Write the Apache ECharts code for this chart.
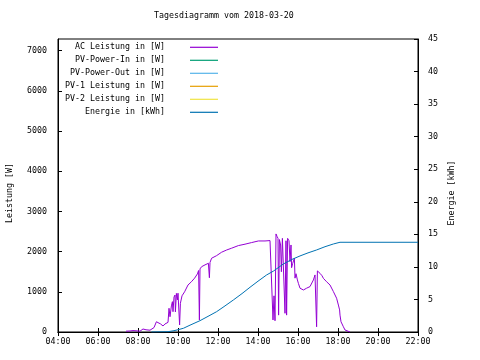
<!DOCTYPE html>
<html>
<head>
<meta charset="utf-8">
<script src="https://cdn.jsdelivr.net/npm/echarts@6/dist/echarts.min.js"></script>
<style>html,body{margin:0;padding:0;background:#fff}#c{width:480px;height:360px}</style>
</head>
<body>
<div id="c"></div>
<script>
// ---- data ----
const chartTitle = 'Tagesdiagramm vom 2018-03-20';
const seriesNames = ['AC Leistung in [W]', 'PV-Power-In in [W]', 'PV-Power-Out in [W]', 'PV-1 Leistung in [W]', 'PV-2 Leistung in [W]', 'Energie in [kWh]'];
const xTicks = [4, 6, 8, 10, 12, 14, 16, 18, 20, 22];

// AC power: time (decimal hours) and watts
const acTime = [7.40, 7.50, 7.60, 7.75, 7.90, 8.00, 8.10, 8.25, 8.40, 8.50, 8.60, 8.70, 8.80, 8.92, 9.00, 9.13, 9.25, 9.35, 9.42, 9.50,
  9.55, 9.60, 9.67, 9.72, 9.75, 9.80, 9.85, 9.87, 9.92, 9.97, 10.00, 10.05, 10.08, 10.12, 10.20, 10.33, 10.50, 10.67, 10.83, 10.97,
  11.03, 11.07, 11.10, 11.18, 11.35, 11.52, 11.57, 11.60, 11.68, 11.93, 12.18, 12.43, 12.68, 13.02, 13.35, 13.68, 14.02, 14.35, 14.60, 14.70,
  14.75, 14.80, 14.85, 14.90, 14.95, 15.00, 15.03, 15.07, 15.13, 15.17, 15.22, 15.27, 15.35, 15.40, 15.43, 15.48, 15.55, 15.60, 15.65, 15.68,
  15.73, 15.82, 15.85, 15.90, 15.97, 16.02, 16.10, 16.27, 16.35, 16.43, 16.60, 16.77, 16.85, 16.93, 16.97, 17.02, 17.10, 17.20, 17.27, 17.43,
  17.60, 17.77, 17.93, 18.02, 18.08, 18.10, 18.15, 18.27, 18.35, 18.45, 18.55, 18.60];
const acPower = [20, 30, 25, 35, 30, 50, 20, 75, 55, 50, 45, 90, 110, 255, 215, 200, 150, 200, 215, 240,
  590, 380, 650, 755, 505, 870, 920, 500, 960, 800, 965, 980, 175, 715, 900, 1000, 1170, 1250, 1340, 1445,
  1530, 300, 1570, 1625, 1670, 1710, 1350, 1730, 1835, 1900, 1985, 2040, 2085, 2150, 2185, 2225, 2265, 2265, 2275, 2260,
  300, 900, 280, 2440, 2380, 2330, 420, 2300, 2165, 1500, 2330, 2330, 465, 2270, 420, 2330, 2270, 1750, 2165, 1600,
  1700, 1835, 1340, 1450, 1295, 1210, 1090, 1045, 1005, 1090, 1130, 1295, 1420, 130, 1520, 1545, 1460, 1400, 1335, 1250,
  1170, 1005, 840, 670, 550, 420, 255, 130, 50, 20, 10, 0];

// Energy: time (decimal hours) and kWh
const energyTime = [8.67, 9.50, 9.80, 10.00, 10.27, 10.60, 11.10, 11.50, 11.93, 12.30, 12.77, 13.20, 13.60, 14.00, 14.43, 14.77, 15.27, 15.70, 16.10, 16.50, 16.93, 17.35, 17.77, 18.10, 22.00];
const energyKWh = [0, 0.05, 0.2, 0.35, 0.57, 1.05, 1.74, 2.4, 3.12, 3.9, 4.92, 5.9, 6.87, 7.8, 8.76, 9.35, 10.45, 11.15, 11.68, 12.15, 12.6, 13.1, 13.52, 13.78, 13.78];

const pvInData = [];
const pvOutData = [];
const pv1Data = [];
const pv2Data = [];

// ---- chart ----
const FONT = 'DejaVu Sans Mono';
const FS = 8.3;
const zip = (a, b) => a.map((v, i) => [v, b[i]]);
const colors = ['#9400d3', '#009e73', '#56b4e9', '#e69f00', '#f0e442', '#0072b2'];

const chart = echarts.init(document.getElementById('c'), null, {renderer: 'canvas'});
const fmtHour = v => (v < 10 ? '0' : '') + v + ':00';
const lineSeries = (i, data, yIdx) => ({
  name: seriesNames[i], type: 'line', data: data, yAxisIndex: yIdx, xAxisIndex: 0,
  symbol: 'none', showSymbol: false, color: colors[i],
  lineStyle: {color: colors[i], width: 1}, emphasis: {disabled: true}, z: 2 + i
});

chart.setOption({
  animation: false,
  backgroundColor: '#fff',
  title: {
    text: chartTitle, left: 154, top: 12, padding: 0,
    textStyle: {fontFamily: FONT, fontSize: FS, fontWeight: 'normal', color: '#000'}
  },
  legend: {
    orient: 'vertical', align: 'right', right: 262, top: 40.8, padding: 0,
    icon: 'rect', itemWidth: 28, itemHeight: 1.2, itemGap: 0,
    data: seriesNames,
    textStyle: {fontFamily: FONT, fontSize: FS, color: '#000', lineHeight: 13, padding: [0, 20, 0, 0]}
  },
  grid: {left: 58, right: 62, top: 39, bottom: 28, show: true, borderColor: '#000', borderWidth: 1, containLabel: false},
  xAxis: [{
    type: 'value', min: 4, max: 22, interval: 2, position: 'bottom',
    axisLine: {lineStyle: {color: '#000', width: 1}},
    axisTick: {inside: true, length: 4, lineStyle: {color: '#000'}},
    axisLabel: {formatter: fmtHour, margin: 6, fontFamily: FONT, fontSize: FS, color: '#000'},
    splitLine: {show: false}
  }, {
    type: 'value', min: 4, max: 22, interval: 2, position: 'top',
    axisLine: {lineStyle: {color: '#000', width: 1}},
    axisTick: {inside: true, length: 4, lineStyle: {color: '#000'}},
    axisLabel: {show: false}, splitLine: {show: false}
  }],
  yAxis: [{
    type: 'value', min: 0, max: 7290, interval: 1000, position: 'left',
    axisLine: {show: true, lineStyle: {color: '#000', width: 1}},
    axisTick: {show: true, inside: true, length: 4, lineStyle: {color: '#000'}},
    axisLabel: {showMaxLabel: false, formatter: v => String(v), margin: 11, fontFamily: FONT, fontSize: FS, color: '#000'},
    splitLine: {show: false}
  }, {
    type: 'value', min: 0, max: 45, interval: 5, position: 'right',
    axisLine: {show: true, lineStyle: {color: '#000', width: 1}},
    axisTick: {show: true, inside: true, length: 4, lineStyle: {color: '#000'}},
    axisLabel: {formatter: v => String(v), margin: 10, fontFamily: FONT, fontSize: FS, color: '#000'},
    splitLine: {show: false}
  }],
  graphic: [
    {type: 'text', x: 10, y: 193, rotation: Math.PI / 2,
      style: {text: 'Leistung [W]', align: 'center', verticalAlign: 'middle', font: FS + 'px "' + FONT + '"', fill: '#000'}},
    {type: 'text', x: 452, y: 193, rotation: Math.PI / 2,
      style: {text: 'Energie [kWh]', align: 'center', verticalAlign: 'middle', font: FS + 'px "' + FONT + '"', fill: '#000'}}
  ],
  series: [
    lineSeries(0, zip(acTime, acPower), 0),
    lineSeries(1, pvInData, 0),
    lineSeries(2, pvOutData, 0),
    lineSeries(3, pv1Data, 0),
    lineSeries(4, pv2Data, 0),
    lineSeries(5, zip(energyTime, energyKWh), 1)
  ]
});
</script>
</body>
</html>
